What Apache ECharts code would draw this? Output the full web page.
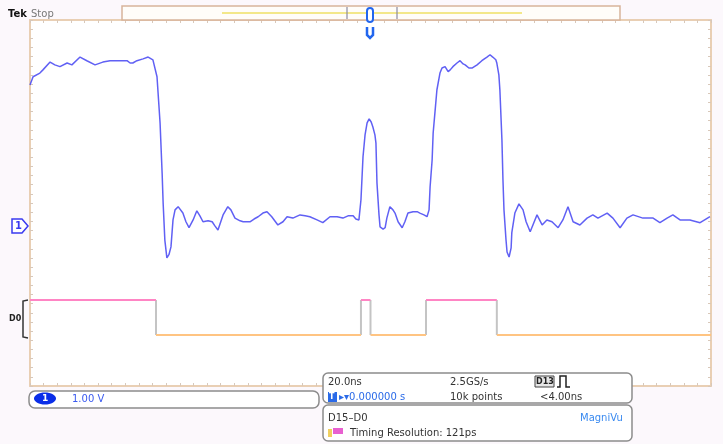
<!DOCTYPE html>
<html>
<head>
<meta charset="utf-8">
<script src="https://cdn.jsdelivr.net/npm/echarts@6/dist/echarts.min.js"></script>
<style>
html,body{margin:0;padding:0;background:#fcf8fc;}
#c{width:723px;height:444px;}
</style>
</head>
<body>
<div id="c"></div>
<script>
// Channel 1 analog trace: time (ns) and voltage (V)
var ch1Time = [-100,-99.1,-97.1,-96.2,-94.1,-92.7,-91.2,-89.1,-87.7,-85.3,-83.3,-80.9,-78.6,-76.5,-73.6,-71.5,-70.6,-69.8,-68.6,-66.8,-65.3,-63.9,-62.7,-61.8,-61.2,-60.9,-60.4,-59.8,-59.2,-58.6,-58.0,-57.4,-56.5,-55.1,-54.2,-53.3,-52.1,-51.0,-50.1,-49.2,-47.7,-46.5,-45.7,-44.8,-43.3,-41.9,-41.0,-39.8,-38.3,-37.4,-35.4,-34.2,-33.0,-31.6,-30.4,-29.0,-27.2,-25.7,-24.5,-22.8,-20.7,-19.2,-17.8,-15.7,-14.0,-11.9,-9.8,-8.1,-6.6,-5.1,-4.3,-3.4,-2.8,-2.2,-1.6,-1.0,-0.4,0.2,0.7,1.3,1.6,1.9,2.5,2.8,3.7,4.3,4.8,5.7,6.6,7.2,8.1,9.3,10.1,11.0,12.5,13.7,14.5,15.7,16.6,17.2,17.5,18.1,18.4,19.0,19.5,20.4,21.0,21.9,22.8,23.4,24.2,25.4,26.3,27.2,27.8,28.9,29.8,31.3,32.7,34.2,35.1,35.9,36.8,37.1,37.7,38.0,38.6,38.9,39.2,39.8,40.1,40.7,41.3,41.5,42.4,43.6,44.8,45.7,46.9,47.7,48.9,50.4,51.8,53.3,55.1,56.5,58.0,59.5,61.5,63.6,65.3,66.8,69.5,71.2,73.3,75.3,77.1,80.0,83.0,85.0,87.1,88.8,90.9,93.8,96.8,99.7];
var ch1Volts = [3.08,3.26,3.34,3.41,3.58,3.52,3.48,3.56,3.52,3.69,3.61,3.52,3.58,3.61,3.61,3.61,3.56,3.56,3.61,3.65,3.69,3.63,3.26,2.25,1.16,0.50,-0.31,-0.70,-0.63,-0.46,0.13,0.35,0.42,0.28,0.09,-0.04,0.13,0.33,0.22,0.09,0.11,0.09,0.0,-0.09,0.24,0.42,0.35,0.17,0.11,0.09,0.09,0.15,0.20,0.28,0.31,0.20,0.02,0.09,0.20,0.17,0.24,0.22,0.20,0.13,0.07,0.20,0.20,0.17,0.22,0.22,0.15,0.13,0.57,1.51,1.99,2.25,2.34,2.27,2.16,1.99,1.81,0.94,0.24,-0.02,-0.07,-0.04,0.17,0.42,0.35,0.28,0.09,-0.04,0.09,0.28,0.31,0.31,0.28,0.24,0.20,0.35,0.85,1.44,2.03,2.54,2.97,3.34,3.45,3.48,3.37,3.41,3.48,3.56,3.61,3.54,3.52,3.45,3.45,3.52,3.61,3.69,3.74,3.69,3.63,3.56,3.30,2.97,1.88,1.01,0.35,-0.31,-0.57,-0.68,-0.48,-0.15,0.28,0.48,0.35,0.09,-0.13,0.02,0.24,0.02,0.13,0.09,-0.04,0.13,0.42,0.09,0.02,0.17,0.24,0.17,0.28,0.17,-0.04,0.17,0.24,0.17,0.17,0.07,0.17,0.24,0.13,0.13,0.07,0.20];
// Digital channel: edge times (ns) and logic state of each segment
var digitalEdges = [-100,-63.0,-2.8,0.0,16.3,37.1,100];
var digitalStates = [1,0,1,0,1,0];
// Graticule divisions
var xDivTicks = [-100,100,20];
var yDivTicks = [-4,4,1];

var chart = echarts.init(document.getElementById('c'));
var ch1Data = ch1Time.map(function(t,i){return [t,ch1Volts[i]];});

var series = [];
for (var i=0;i<digitalStates.length;i++){
  var s = digitalStates[i];
  series.push({type:'line', xAxisIndex:0, yAxisIndex:3, symbol:'none', silent:true,
    lineStyle:{color: s? '#ff85c4':'#ffc482', width:2},
    data:[[digitalEdges[i],s],[digitalEdges[i+1],s]]});
}
for (var j=1;j<digitalEdges.length-1;j++){
  series.push({type:'line', xAxisIndex:0, yAxisIndex:3, symbol:'none', silent:true, z:1,
    lineStyle:{color:'#c4c4c4', width:2},
    data:[[digitalEdges[j],0],[digitalEdges[j],1]]});
}
series.push({type:'line', xAxisIndex:0, yAxisIndex:0, symbol:'none', silent:true, z:3,
  lineStyle:{color:'#4a4af2', width:1.5, opacity:0.88}, data: ch1Data});

var frame = '#e9cfb4';
function gAxis(pos){
  var v = (pos==='left'||pos==='right');
  return {type:'value', position:pos, min: v? yDivTicks[0]:xDivTicks[0],
    max: v? yDivTicks[1]:xDivTicks[1],
    interval: v? yDivTicks[2]:xDivTicks[2],
    axisLine:{show:true,onZero:false,lineStyle:{color:frame,width:2}},
    axisTick:{show:true,inside:true,length:3,lineStyle:{color:'#d8c8ba',width:1}},
    minorTick:{show:true,splitNumber:5,length:3,lineStyle:{color:'#d8c8ba',width:1}},
    axisLabel:{show:false}, splitLine:{show:false}};
}
var T = {fontFamily:'DejaVu Sans', fontSize:10, fill:'#333'};
function txt(x,y,s,extra){var st=Object.assign({},T,{text:s,x:x,y:y,textVerticalAlign:'middle'},extra||{});return {type:'text',style:st,z:10};}

var option = {
  backgroundColor:'#fcf8fc',
  animation:false,
  grid:{left:30,right:12,top:20,bottom:58,show:true,backgroundColor:'#ffffff',borderWidth:0},
  xAxis:[ gAxis('bottom'), gAxis('top') ],
  yAxis:[
    {type:'value', min:-3.5, max:4.5, show:false},
    gAxis('left'),
    gAxis('right'),
    {type:'value', min:-1.457, max:9.0, show:false}
  ],
  series: series,
  graphic:[
    txt(8,14,'Tek',{fontWeight:'bold',fill:'#111',fontSize:10}),
    txt(31,14,'Stop',{fill:'#777',fontSize:10}),
    {type:'rect',shape:{x:122,y:6,width:498,height:14},style:{fill:'#fffdf9',stroke:'#d7b49a',lineWidth:1.5},z:5},
    {type:'line',shape:{x1:222,y1:13,x2:522,y2:13},style:{stroke:'#f3e88a',lineWidth:2},z:6},
    {type:'line',shape:{x1:347,y1:7,x2:347,y2:19},style:{stroke:'#8a8aa0',lineWidth:1.2},z:6},
    {type:'line',shape:{x1:397,y1:7,x2:397,y2:19},style:{stroke:'#8a8aa0',lineWidth:1.2},z:6},
    {type:'rect',shape:{x:367,y:8,width:6,height:14,r:3},style:{fill:'#fff',stroke:'#2266ee',lineWidth:2},z:7},
    {type:'polyline',shape:{points:[[367,27],[367,35],[370,38],[373,35],[373,27]]},style:{fill:'none',stroke:'#2266ee',lineWidth:2.5},z:7},
    {type:'polygon',shape:{points:[[12,219],[22,219],[28,226],[22,233],[12,233]]},style:{fill:'#fff',stroke:'#3a3af0',lineWidth:1.5},z:7},
    txt(15,226,'1',{fill:'#3a3af0',fontSize:10,fontWeight:'bold'}),
    {type:'polyline',shape:{points:[[28,300],[23,301],[23,337],[28,338]]},style:{fill:'none',stroke:'#333',lineWidth:1.5},z:7},
    txt(9,319,'D0',{fill:'#222',fontSize:8,fontWeight:'bold'}),
    {type:'rect',shape:{x:29,y:391,width:290,height:17,r:6},style:{fill:'#fff',stroke:'#8c8c8c',lineWidth:1.5},z:5},
    {type:'ellipse',shape:{cx:45,cy:398.5,rx:11,ry:6},style:{fill:'#0a2ee8'},z:6},
    txt(42,399,'1',{fill:'#fff',fontSize:9,fontWeight:'bold'}),
    txt(72,399,'1.00 V',{fill:'#3a5af0'}),
    {type:'rect',shape:{x:323,y:373,width:309,height:30,r:5},style:{fill:'#fff',stroke:'#8c8c8c',lineWidth:1.5},z:5},
    {type:'rect',shape:{x:323,y:405,width:309,height:36,r:5},style:{fill:'#fff',stroke:'#8c8c8c',lineWidth:1.5},z:5},
    txt(328,382,'20.0ns'),
    txt(450,382,'2.5GS/s'),
    {type:'rect',shape:{x:328,y:392,width:9,height:10},style:{fill:'#2a6ae8'},z:6},
    txt(329,397,'T',{fill:'#fff',fontSize:8,fontWeight:'bold'}),
    txt(339,397,'\u25B8\u25BE0.000000 s',{fill:'#2a6ae8'}),
    txt(450,397,'10k points'),
    {type:'rect',shape:{x:535,y:376,width:19,height:11},style:{fill:'#e6e6e6',stroke:'#444',lineWidth:1},z:6},
    txt(536,382,'D13',{fontSize:8,fontWeight:'bold',fill:'#222'}),
    {type:'polyline',shape:{points:[[557,387],[560,387],[560,376],[566,376],[566,387],[570,387]]},style:{fill:'none',stroke:'#222',lineWidth:1.5},z:6},
    txt(540,397,'<4.00ns'),
    txt(328,418,'D15\u2013D0'),
    txt(580,418,'MagniVu',{fill:'#3a8af0'}),
    {type:'rect',shape:{x:328,y:429,width:4,height:8},style:{fill:'#f0d060'},z:6},
    {type:'rect',shape:{x:333,y:428,width:10,height:6},style:{fill:'#e860d0'},z:6},
    txt(350,433,'Timing Resolution: 121ps')
  ]
};
chart.setOption(option);
</script>
</body>
</html>
